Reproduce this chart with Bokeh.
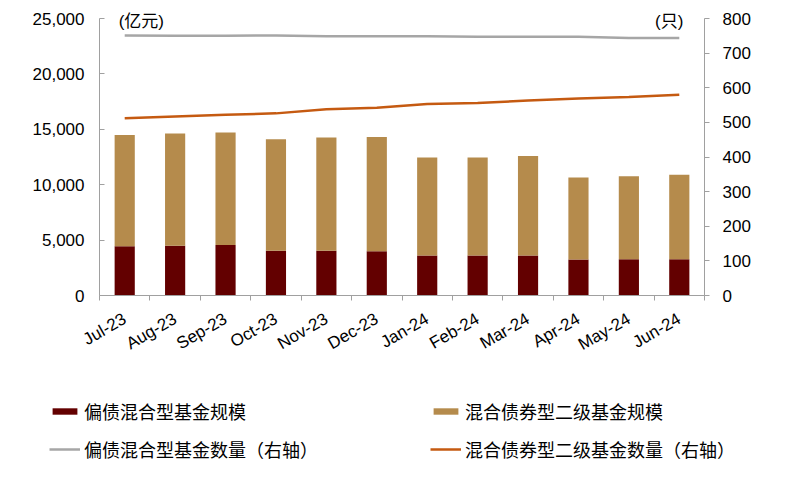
import math
import numpy as np
from bokeh.plotting import figure
from bokeh.layouts import column
from bokeh.models import (Range1d, LinearAxis, FixedTicker, NumeralTickFormatter,
                          Legend, LegendItem, Label, ColumnDataSource)
from bokeh.embed import file_html
from bokeh.resources import INLINE

months = ["Jul-23", "Aug-23", "Sep-23", "Oct-23", "Nov-23", "Dec-23",
          "Jan-24", "Feb-24", "Mar-24", "Apr-24", "May-24", "Jun-24"]
# 规模 (亿元)
pianzhai_size = [4450, 4500, 4550, 4050, 4050, 4000, 3600, 3600, 3600, 3250, 3280, 3280]
erji_size = [10030, 10120, 10150, 10050, 10200, 10300, 8850, 8850, 9000, 7400, 7490, 7620]
# 数量 (只)
pianzhai_count = [751, 750, 750, 751, 749, 749, 749, 747, 747, 747, 744, 744]
erji_count = [512, 517, 522, 526, 538, 542, 553, 556, 563, 569, 573, 580]

left_ticks = [0, 5000, 10000, 15000, 20000, 25000]
right_ticks = [0, 100, 200, 300, 400, 500, 600, 700, 800]

names = ["偏债混合型基金规模", "混合债券型二级基金规模",
         "偏债混合型基金数量（右轴）", "混合债券型二级基金数量（右轴）"]

DARK = "#630000"
TAN = "#B58B4C"
GRAY = "#A6A6A6"
ORANGE = "#C55A11"
AXIS = "#A0A0A0"
FONT = "Liberation Sans, Arial, Noto Sans CJK SC"
CJK = "Noto Sans CJK SC"

# layout (pixels)
W = 773
TOP, FRAME_H, AXIS_H = 5, 290, 80
AXIS_PX = 277          # pixel height of the 0..max tick span
LEFT_B, RIGHT_B = 99, 69
LEG_H = 102
head = FRAME_H / AXIS_PX

xc = np.arange(len(months)) + 0.5
src = ColumnDataSource(dict(x=xc, a=pianzhai_size, b=erji_size,
                            ca=pianzhai_count, cb=erji_count))

p = figure(width=W, height=TOP + FRAME_H + AXIS_H, output_backend="svg",
           toolbar_location=None,
           x_range=Range1d(0, len(months)), y_range=Range1d(0, left_ticks[-1] * head),
           min_border_left=LEFT_B, min_border_right=RIGHT_B, min_border_top=TOP,
           min_border_bottom=AXIS_H)
p.outline_line_color = None
p.xgrid.visible = False
p.ygrid.visible = False
p.extra_y_ranges = {"right": Range1d(0, right_ticks[-1] * head)}

bars = p.vbar_stack(["a", "b"], x="x", width=0.4, source=src,
                    color=[DARK, TAN], line_color=None)
l1 = p.line("x", "ca", source=src, y_range_name="right", line_color=GRAY, line_width=2.5)
l2 = p.line("x", "cb", source=src, y_range_name="right", line_color=ORANGE, line_width=2.5)

# left axis
ya = p.yaxis[0]
ya.ticker = FixedTicker(ticks=left_ticks)
ya.bounds = (left_ticks[0], left_ticks[-1])
ya.formatter = NumeralTickFormatter(format="0,0")
ya.axis_line_color = AXIS
ya.major_tick_line_color = AXIS
ya.major_tick_in = 5
ya.major_tick_out = 0
ya.minor_tick_line_color = None
ya.major_label_text_font = FONT
ya.major_label_text_font_size = "17px"
ya.major_label_text_color = "#000000"
ya.major_label_standoff = 15

# right axis
yr = LinearAxis(y_range_name="right", ticker=FixedTicker(ticks=right_ticks),
                bounds=(right_ticks[0], right_ticks[-1]))
yr.axis_line_color = AXIS
yr.major_tick_line_color = AXIS
yr.major_tick_in = 0
yr.major_tick_out = 5
yr.minor_tick_line_color = None
yr.major_label_text_font = FONT
yr.major_label_text_font_size = "17px"
yr.major_label_text_color = "#000000"
yr.major_label_standoff = 13
p.add_layout(yr, "right")

# x axis
xa = p.xaxis[0]
xa.ticker = FixedTicker(ticks=list(xc), minor_ticks=list(np.arange(len(months) + 1)))
xa.major_label_overrides = {float(v): m for v, m in zip(xc, months)}
xa.axis_line_color = AXIS
xa.major_tick_line_color = None
xa.major_tick_in = 0
xa.major_tick_out = 0
xa.minor_tick_line_color = AXIS
xa.minor_tick_in = 0
xa.minor_tick_out = 5
xa.major_label_orientation = math.pi / 6
xa.major_label_text_font = FONT
xa.major_label_text_font_size = "17px"
xa.major_label_text_color = "#000000"
xa.major_label_standoff = 17

p.add_layout(Label(x=xc[0], y=24700, x_offset=-6, text="(亿元)", text_align="left",
                   text_baseline="middle", text_font=FONT, text_font_size="17px",
                   text_color="#000000"))
p.add_layout(Label(x=xc[-1], y=24700, x_offset=4, text="(只)", text_align="right",
                   text_baseline="middle", text_font=FONT, text_font_size="17px",
                   text_color="#000000"))

# legend figure: same series as hidden renderers, so only the legend shows
q = figure(width=W, height=LEG_H, output_backend="svg", toolbar_location=None,
           x_range=Range1d(0, len(months)), y_range=Range1d(0, 1),
           min_border=0, x_axis_location=None, y_axis_location=None)
try:
    q.frame_align = False
except Exception:
    pass
q.outline_line_color = None
q.xgrid.visible = False
q.ygrid.visible = False
g = q.vbar_stack(["a", "b"], x="x", width=0.4, source=src,
                 color=[DARK, TAN], line_color=None, visible=False)
g3 = q.line("x", "ca", source=src, line_color=GRAY, line_width=2.5, visible=False)
g4 = q.line("x", "cb", source=src, line_color=ORANGE, line_width=2.5, visible=False)

# column-major order for a 2-column legend: row 1 = sizes, row 2 = counts
legend = Legend(items=[LegendItem(label=names[0], renderers=[g[0]]),
                       LegendItem(label=names[2], renderers=[g3]),
                       LegendItem(label=names[1], renderers=[g[1]]),
                       LegendItem(label=names[3], renderers=[g4])],
                location=(49, 15), ncols=2, orientation="vertical",
                glyph_width=31, glyph_height=8, label_height=20, label_width=334,
                label_standoff=4, spacing=12, padding=0, margin=0,
                border_line_color=None, background_fill_alpha=0,
                label_text_font=CJK, label_text_font_size="18px",
                label_text_color="#000000")
q.add_layout(legend, "center")

open("out.html", "w").write(file_html(column(p, q, spacing=0), INLINE))
